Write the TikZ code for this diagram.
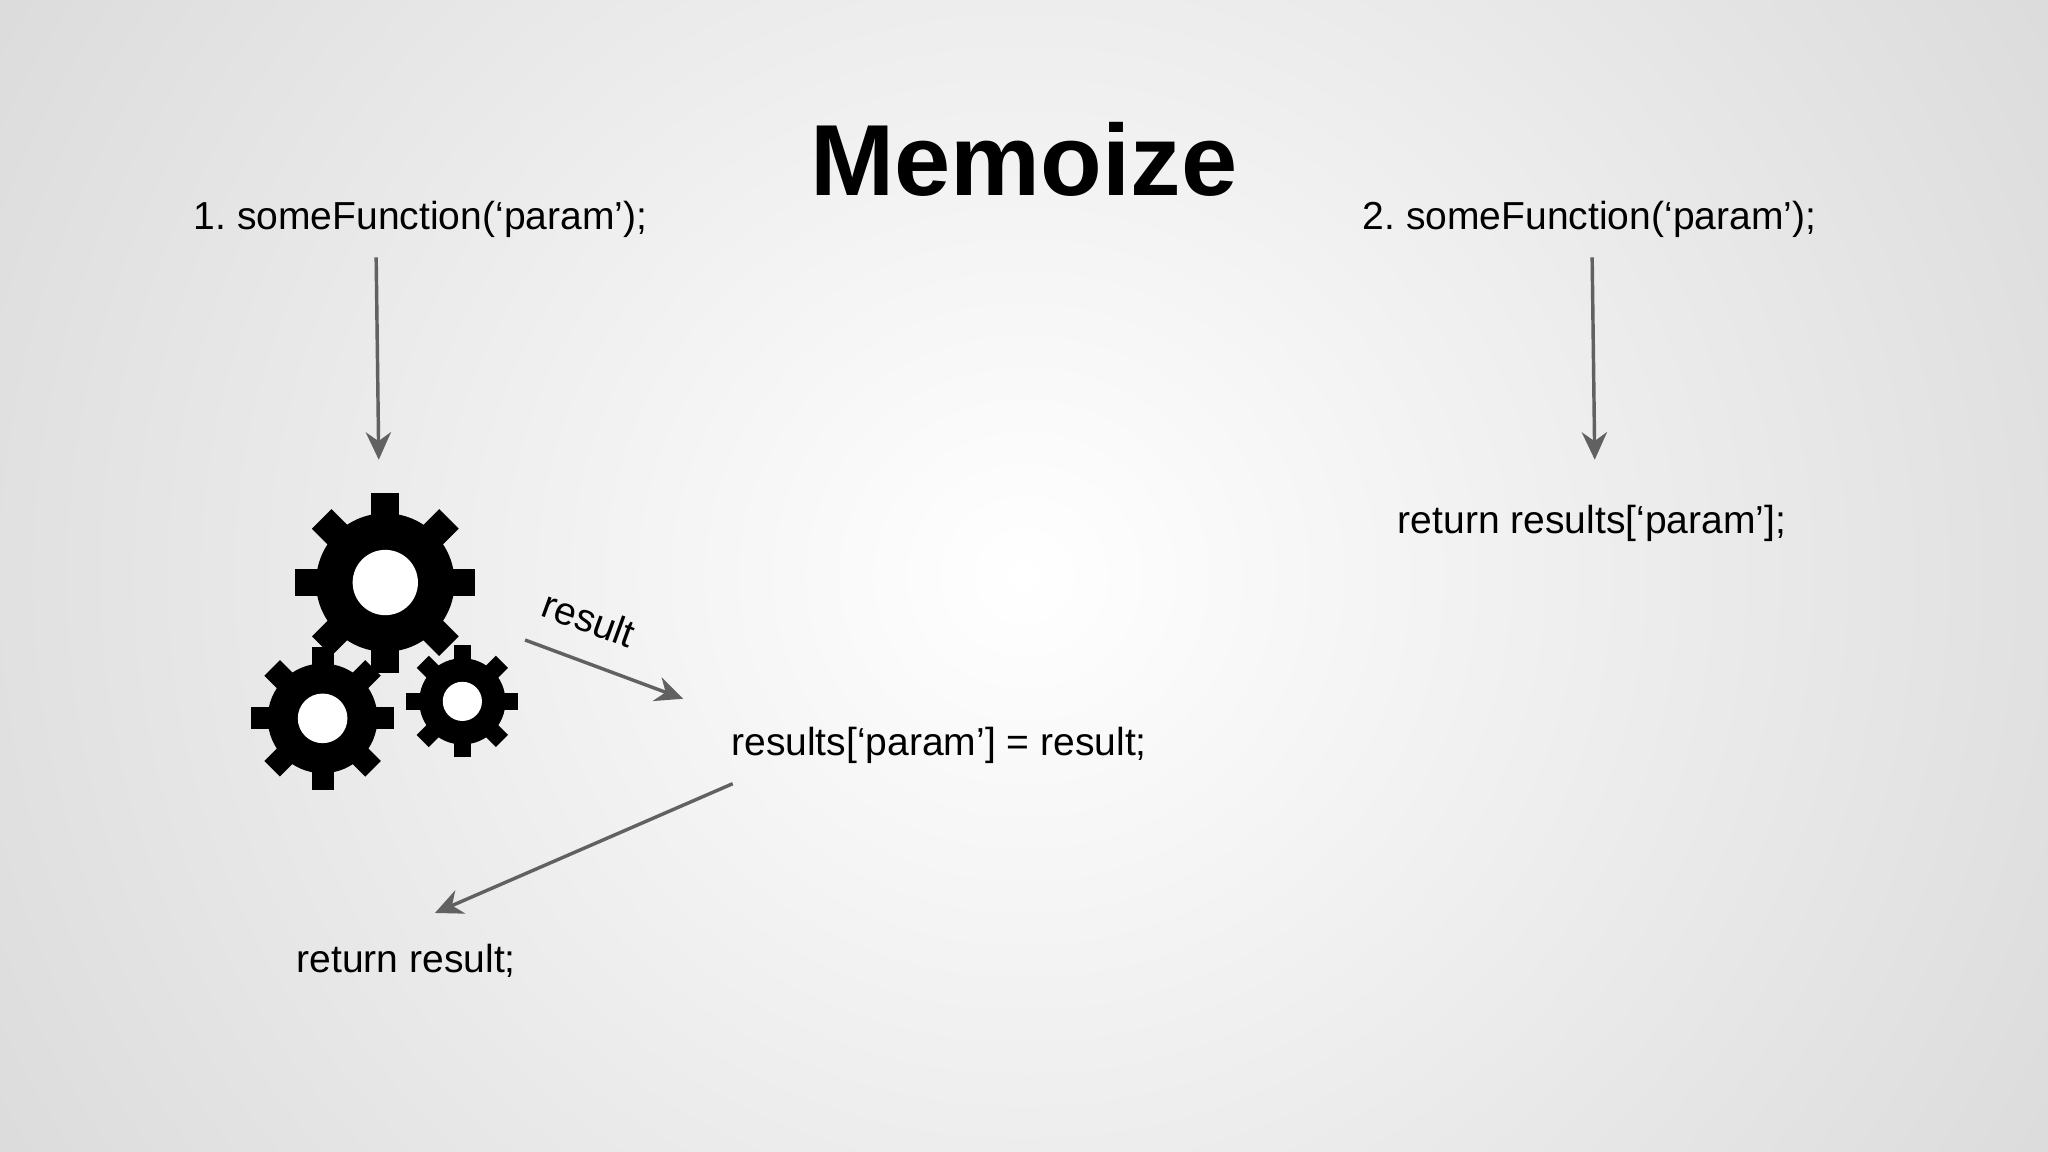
\documentclass[tikz,border=0pt]{standalone}
\usepackage{fontspec}
\setmainfont{Liberation Sans}
\usetikzlibrary{arrows.meta}
\frenchspacing
\begin{document}
\begin{tikzpicture}[x=0.01cm,y=-0.01cm,
  txt/.style={font=\fontsize{8.5pt}{10pt}\selectfont, inner sep=0pt},
  arr/.style={draw=black!62, line width=0.75pt, -{Stealth[length=6pt,width=5.5pt]}}]
\useasboundingbox (0,0) rectangle (1568,882);
\begin{scope}
\clip (0,0) rectangle (1568,882);
\shade[inner color=white, outer color=black!15] (-200,-500) rectangle (1768,1382);
\end{scope}
\newcommand{\mygear}[4]{% x y bodyradius holeradius
  \begin{scope}[shift={(#1,#2)}]
  \fill[black] (0,0) circle (#3);
  \foreach \a in {0,45,...,315}{\fill[black,rotate=\a] (-0.2*#3,-1.3*#3) rectangle (0.2*#3,0);}
  \fill[white] (0,0) circle (#4);
  \end{scope}}
\mygear{295}{446}{53}{25}
\mygear{247}{550}{42}{19}
\mygear{354}{537}{33}{15}
\node[font=\fontsize{22pt}{26pt}\selectfont\bfseries, inner sep=0pt] (title) at (784,122) {Memoize};
\node[txt] (f1) at (322,168) {1. someFunction(‘param’);};
\node[txt] (f2) at (1217,168) {2. someFunction(‘param’);};
\node[txt] (rr) at (1219,401) {return results[‘param’];};
\node[txt] (rs) at (719,571) {results[‘param’] = result;};
\node[txt] (ret) at (311,736) {return result;};
\node[txt, rotate=-20] (lbl) at (451,474) {result};
\coordinate (a1s) at (288,197); \coordinate (a1e) at (290,352);
\coordinate (a2s) at (1219,197); \coordinate (a2e) at (1221,352);
\coordinate (a3s) at (402,490); \coordinate (a3e) at (523,535);
\coordinate (a4s) at (561,600); \coordinate (a4e) at (333,699);
\draw[arr] (a1s) -- (a1e);
\draw[arr] (a2s) -- (a2e);
\draw[arr] (a3s) -- (a3e);
\draw[arr] (a4s) -- (a4e);
\end{tikzpicture}
\end{document}
